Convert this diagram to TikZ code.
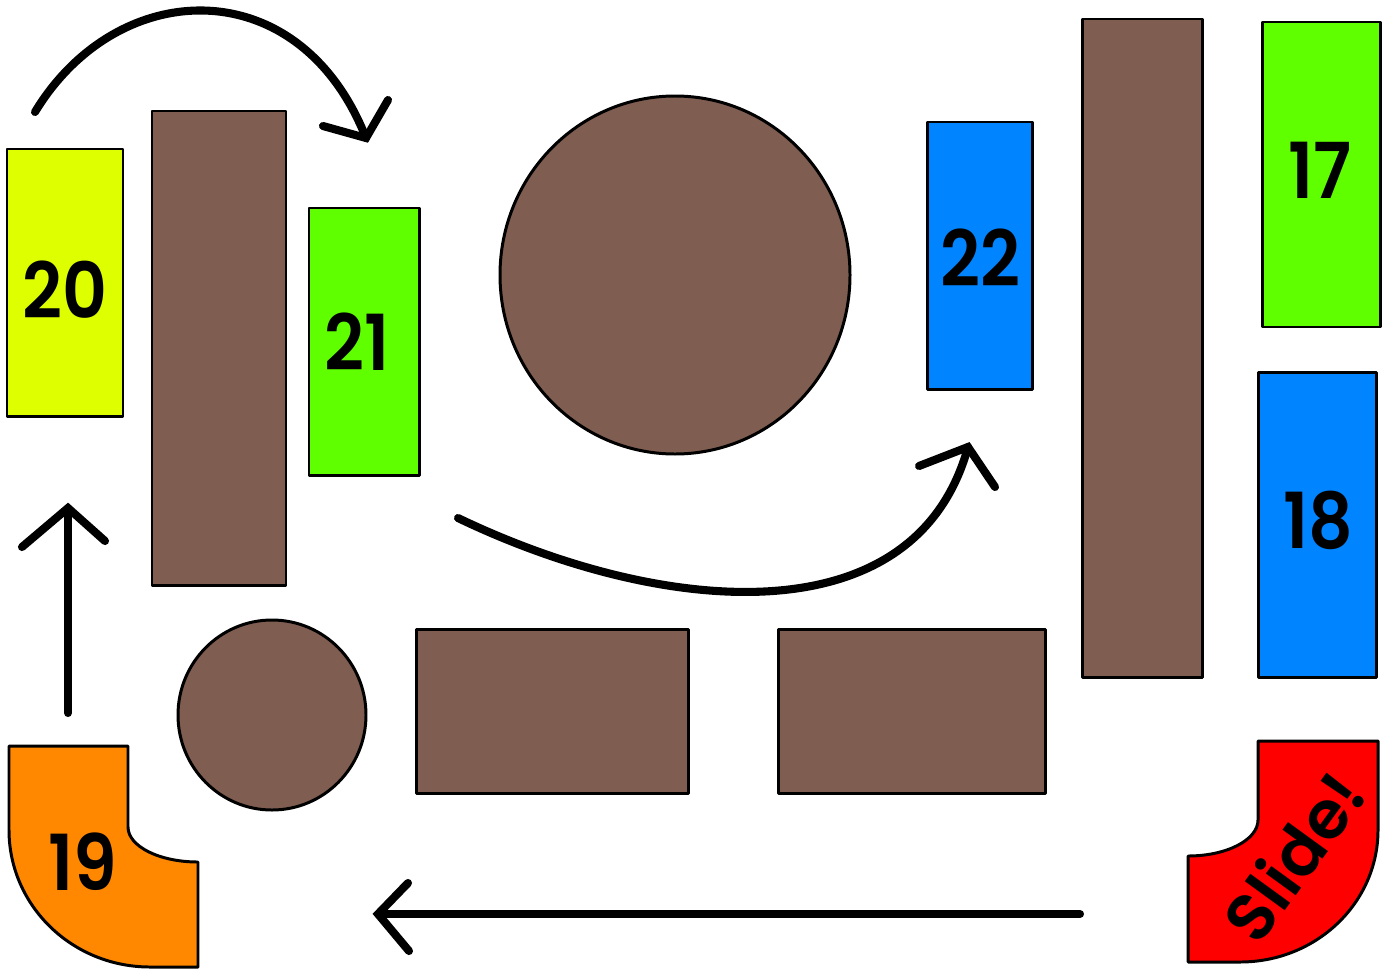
\documentclass[tikz,border=0pt]{standalone}
\usepackage{fontspec}
\setmainfont{Poppins}[BoldFont={Poppins SemiBold}]
\definecolor{cyel}{RGB}{221,255,0}
\definecolor{cgrn}{RGB}{96,255,0}
\definecolor{cblu}{RGB}{0,132,255}
\definecolor{cbrn}{RGB}{127,93,80}
\definecolor{corg}{RGB}{255,136,0}
\definecolor{cred}{RGB}{255,0,0}
\tikzset{
  shp/.style={draw=black, line width=1.7pt, line join=round},
  arr/.style={draw=black, line width=4.6pt, line cap=round, line join=miter},
  lbl/.style={inner sep=0pt, xscale=0.9, font=\fontsize{44}{50}\selectfont\bfseries}
}
\begin{document}
\begin{tikzpicture}[x=0.02cm, y=-0.02cm]
\useasboundingbox (0,0) rectangle (1398,970);
% rectangles
\draw[shp, fill=cyel] (7,149) rectangle (123,416);
\draw[shp, fill=cbrn] (152,111) rectangle (286,585);
\draw[shp, fill=cgrn] (309,208) rectangle (419,475);
\draw[shp, fill=cbrn] (675,275) ellipse [x radius=175, y radius=179];
\draw[shp, fill=cblu] (927,122) rectangle (1032,389);
\draw[shp, fill=cbrn] (1082,19) rectangle (1202,677);
\draw[shp, fill=cgrn] (1262,22) rectangle (1380,327);
\draw[shp, fill=cblu] (1258,372) rectangle (1376,677);
\draw[shp, fill=cbrn] (272,715) ellipse [x radius=94, y radius=95];
\draw[shp, fill=cbrn] (416,629) rectangle (688,793);
\draw[shp, fill=cbrn] (778,629) rectangle (1045,793);
% curved pieces
\draw[shp, fill=corg] (9,746) -- (128,746) -- (128,827)
  arc[start angle=180, end angle=90, x radius=70, y radius=35]
  -- (198,967) -- (150,967)
  arc[start angle=90, end angle=180, x radius=141, y radius=137] -- cycle;
\draw[shp, fill=cred] (1258,741) -- (1378,741) -- (1378,830)
  arc[start angle=0, end angle=90, x radius=138, y radius=132]
  -- (1188,962) -- (1188,856)
  arc[start angle=90, end angle=0, x radius=70, y radius=36] -- cycle;
% labels
\node[lbl] (t20) at (65,290) {20};
\node[lbl] (t21) at (357,342) {21};
\node[lbl] (t22) at (980,258) {22};
\node[lbl] (t17) at (1320,170) {17};
\node[lbl] (t18) at (1318,520) {18};
\node[lbl] (t19) at (83,862) {19};
\node[inner sep=0pt, rotate=54, font=\fontsize{38}{44}\selectfont\bfseries] (tslide) at (1293,856) {Slide!};
% arrow coordinates
\coordinate (a1s) at (35,112);
\coordinate (a1t) at (366,138);
\coordinate (a1l) at (323,126);
\coordinate (a1r) at (388,100);
\coordinate (a2s) at (458,518);
\coordinate (a2t) at (968,447);
\coordinate (a2l) at (919,466);
\coordinate (a2r) at (995,487);
\coordinate (a3s) at (68,713);
\coordinate (a3t) at (68,508);
\coordinate (a3l) at (22,547);
\coordinate (a3r) at (105,541);
\coordinate (a4s) at (1080,914);
\coordinate (a4t) at (378,914);
\coordinate (a4l) at (408,883);
\coordinate (a4r) at (409,951);
% arrows
\draw[arr] (a1s) .. controls (118,-25) and (300,-30) .. (a1t);
\draw[arr] (a1l) -- (a1t) -- (a1r);
\draw[arr] (a2s) .. controls (660,615) and (915,640) .. (a2t);
\draw[arr] (a2l) -- (a2t) -- (a2r);
\draw[arr] (a3s) -- (a3t);
\draw[arr] (a3l) -- (a3t) -- (a3r);
\draw[arr] (a4s) -- (a4t);
\draw[arr] (a4l) -- (a4t) -- (a4r);
\end{tikzpicture}
\end{document}
